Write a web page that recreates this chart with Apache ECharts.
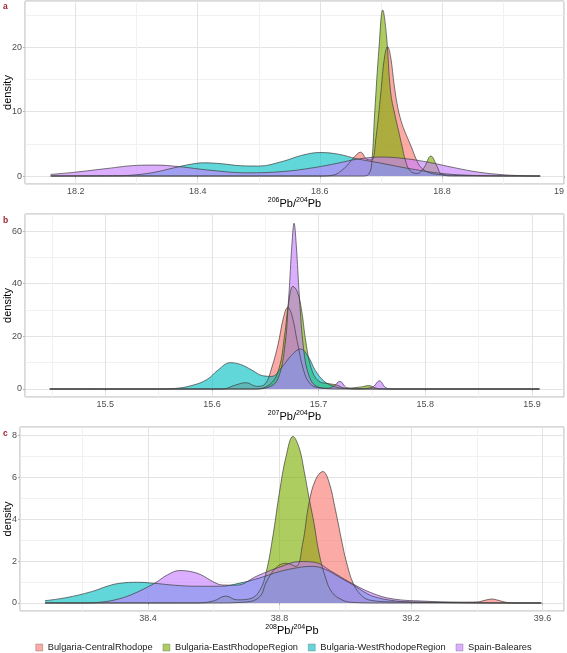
<!DOCTYPE html>
<html>
<head>
<meta charset="utf-8">
<script src="https://cdn.jsdelivr.net/npm/echarts@6/dist/echarts.min.js"></script>
<style>
html,body{margin:0;padding:0;background:#fff;}
#chart{width:567px;height:653px;}
</style>
</head>
<body>
<div id="chart"></div>
<script>
// ---------- data ----------
const groupNames = ['Bulgaria-CentralRhodope','Bulgaria-EastRhodopeRegion','Bulgaria-WestRhodopeRegion','Spain-Baleares'];
const groupColors = ['#F8766D','#7CAE00','#00BFC4','#C77CFF'];

// Panel a: 206Pb/204Pb  [x, density]
const a_central = [[18.159,0],[18.6,0],[18.62,0.1],[18.64,1.2],[18.655,2.8],[18.667,3.7],[18.677,2.6],[18.685,2.5],[18.692,6],[18.7,13],[18.706,18.5],[18.711,20.1],[18.716,18.5],[18.722,14],[18.728,10.5],[18.735,8],[18.742,6.3],[18.75,4.5],[18.758,2.6],[18.766,1.3],[18.78,0.5],[18.8,0.2],[18.85,0.05],[18.961,0]];
const a_east = [[18.159,0],[18.67,0],[18.68,0.3],[18.685,2],[18.69,10],[18.697,20],[18.703,25.8],[18.709,22],[18.716,13],[18.723,9.5],[18.729,7],[18.735,4.5],[18.74,2.5],[18.748,0.8],[18.76,0.4],[18.77,1.2],[18.782,3.1],[18.792,1.5],[18.8,0.2],[18.82,0],[18.961,0]];
const a_west = [[18.159,0],[18.2,0.02],[18.27,0.05],[18.3,0.2],[18.33,0.6],[18.36,1.25],[18.39,1.85],[18.41,2.05],[18.44,1.9],[18.47,1.6],[18.5,1.55],[18.54,2.3],[18.57,3.2],[18.6,3.65],[18.63,3.4],[18.66,2.7],[18.7,2.0],[18.75,1.1],[18.8,0.4],[18.85,0.1],[18.9,0.02],[18.961,0]];
const a_spain = [[18.159,0.25],[18.2,0.6],[18.25,1.15],[18.3,1.65],[18.33,1.7],[18.37,1.45],[18.42,0.9],[18.48,0.5],[18.54,0.7],[18.59,1.3],[18.63,2.0],[18.66,2.6],[18.7,2.95],[18.74,2.7],[18.78,2.1],[18.82,1.3],[18.86,0.6],[18.9,0.2],[18.93,0.06],[18.961,0]];

// Panel b: 207Pb/204Pb
const b_central = [[15.448,0],[15.61,0],[15.622,1.5],[15.632,2.4],[15.642,1],[15.65,2],[15.656,8],[15.662,17],[15.667,27],[15.671,31],[15.675,28],[15.68,18],[15.686,7],[15.692,2],[15.7,0.5],[15.72,0],[15.907,0]];
const b_east = [[15.448,0],[15.64,0],[15.655,2],[15.663,8],[15.668,20],[15.672,33],[15.676,39],[15.68,37],[15.684,30],[15.688,18],[15.693,8],[15.7,3],[15.71,2],[15.717,1.5],[15.725,0.3],[15.74,0.8],[15.747,1.3],[15.754,0.3],[15.76,0],[15.907,0]];
const b_west = [[15.448,0],[15.55,0],[15.565,0.2],[15.58,1.2],[15.595,3.5],[15.606,7.3],[15.617,10],[15.627,9.3],[15.637,7.3],[15.648,5],[15.656,4.8],[15.665,8],[15.675,13],[15.683,15.2],[15.69,12.5],[15.697,7],[15.705,3],[15.713,1.2],[15.722,0.3],[15.74,0],[15.907,0]];
const b_spain = [[15.448,0],[15.64,0],[15.655,1],[15.662,4],[15.668,15],[15.672,35],[15.675,55],[15.677,63],[15.679,55],[15.682,35],[15.686,15],[15.691,5],[15.698,1],[15.708,0.3],[15.714,1],[15.72,2.9],[15.726,0.6],[15.735,0.1],[15.75,0.6],[15.757,3.1],[15.763,0.5],[15.77,0],[15.907,0]];

// Panel c: 208Pb/204Pb
const c_central = [[38.087,0],[38.6,0],[38.7,0.05],[38.74,0.3],[38.76,1.0],[38.79,1.7],[38.82,1.9],[38.85,1.75],[38.87,2.8],[38.89,4.8],[38.91,5.9],[38.932,6.28],[38.95,5.8],[38.97,4.45],[38.99,2.9],[39.002,2.05],[39.024,0.94],[39.05,0.35],[39.08,0.12],[39.15,0.05],[39.3,0.03],[39.4,0.05],[39.43,0.15],[39.446,0.19],[39.46,0.15],[39.49,0.03],[39.52,0],[39.596,0]];
const c_east = [[38.087,0],[38.55,0],[38.6,0.1],[38.637,0.33],[38.67,0.15],[38.71,0.2],[38.74,0.6],[38.76,1.5],[38.78,3.2],[38.8,5.3],[38.82,7.0],[38.841,7.96],[38.86,7.4],[38.875,6.3],[38.89,5.0],[38.905,3.8],[38.92,2.4],[38.94,1.2],[38.96,0.5],[38.99,0.15],[39.02,0.03],[39.1,0],[39.596,0]];
const c_west = [[38.087,0.11],[38.15,0.25],[38.228,0.54],[38.28,0.82],[38.314,0.94],[38.368,0.99],[38.42,0.94],[38.48,0.85],[38.55,0.8],[38.62,0.8],[38.68,0.95],[38.74,1.2],[38.8,1.5],[38.86,1.7],[38.9,1.75],[38.94,1.6],[38.98,1.25],[39.024,0.86],[39.06,0.5],[39.088,0.3],[39.142,0.12],[39.2,0.05],[39.3,0.02],[39.4,0],[39.596,0]];
const c_spain = [[38.087,0],[38.2,0],[38.25,0.03],[38.3,0.15],[38.35,0.4],[38.42,0.94],[38.46,1.35],[38.497,1.55],[38.53,1.5],[38.561,1.35],[38.6,1.0],[38.626,0.86],[38.669,0.85],[38.733,1.3],[38.798,1.7],[38.862,1.98],[38.905,1.95],[38.959,1.5],[39.013,1.0],[39.077,0.5],[39.142,0.2],[39.25,0.08],[39.357,0.03],[39.464,0],[39.596,0]];

// axis ranges and tick steps
const xRanges = [[18.117,19.0],[15.4248,15.93],[38.011,39.665]];
const xSteps = [0.2,0.1,0.4];
const yRanges = [[-1.24,27.2],[-3.04,66.5],[-0.383,8.41]];
const ySteps = [10,20,2];
const panelLetters = ['a','b','c'];
const isotopeTop = ['206','207','208'];

const panels = [
  [a_central,a_east,a_west,a_spain],
  [b_central,b_east,b_west,b_spain],
  [c_central,c_east,c_west,c_spain]
];

// ---------- layout ----------
const grids = [
  {left:25, right:3, top:1, height:183},
  {left:25, right:3, top:214, height:183},
  {left:20, right:3, top:427, height:184}
];
const yNameGaps = [12,12,7];
const xNameGaps = [13,13,13];

const gridLineMajor = '#E3E3E3';
const gridLineMinor = '#F1F1F1';
const tickText = '#4D4D4D';

const option = {
  animation:false,
  backgroundColor:'#ffffff',
  textStyle:{fontFamily:'Liberation Sans, Arial, sans-serif'},
  grid: grids.map(g => Object.assign({show:true, containLabel:false, outerBoundsMode:'none', borderColor:'#B3B3B3', borderWidth:1, backgroundColor:'transparent'}, g)),
  xAxis: xRanges.map((r,i) => ({
    type:'value', gridIndex:i, min:r[0], max:r[1],
    minInterval:xSteps[i], maxInterval:xSteps[i],
    axisLine:{show:false},
    axisTick:{show:true, length:2, lineStyle:{color:'#B3B3B3'}},
    axisLabel:{show:true, margin:3, fontSize:9, color:tickText, showMinLabel:false, showMaxLabel:(i===0), hideOverlap:false,
      alignMaxLabel:(i===0 ? 'right' : null)},
    splitLine:{show:true, lineStyle:{color:gridLineMajor, width:1}},
    minorTick:{show:false, splitNumber:2},
    minorSplitLine:{show:true, lineStyle:{color:gridLineMinor, width:1}},
    name:'{s|' + isotopeTop[i] + '}{m|Pb/}{s|204}{m|Pb}',
    nameLocation:'middle', nameGap:xNameGaps[i], nameMoveOverlap:false,
    nameTextStyle:{color:'#000', fontSize:11,
      rich:{ s:{fontSize:7, verticalAlign:'top', lineHeight:12, color:'#000'},
             m:{fontSize:11, verticalAlign:'bottom', lineHeight:12, color:'#000'} }}
  })),
  yAxis: yRanges.map((r,i) => ({
    type:'value', gridIndex:i, min:r[0], max:r[1],
    minInterval:ySteps[i], maxInterval:ySteps[i],
    axisLine:{show:false},
    axisTick:{show:true, length:2, lineStyle:{color:'#B3B3B3'}},
    axisLabel:{show:true, margin:3, fontSize:9, color:tickText, showMinLabel:false, showMaxLabel:false,
      formatter: v => String(Math.abs(v) < 1e-9 ? 0 : v)},
    splitLine:{show:true, lineStyle:{color:gridLineMajor, width:1}},
    minorTick:{show:false, splitNumber:2},
    minorSplitLine:{show:true, lineStyle:{color:gridLineMinor, width:1}},
    name:'density', nameLocation:'middle', nameGap:yNameGaps[i], nameMoveOverlap:false,
    nameTextStyle:{color:'#000', fontSize:11}
  })),
  legend:{
    data:groupNames, top:638, left:'center', icon:'rect',
    itemWidth:7, itemHeight:7, itemGap:10,
    textStyle:{fontSize:9.3, color:'#1A1A1A'},
    itemStyle:{borderColor:'#666', borderWidth:0.6}
  },
  graphic: panelLetters.map((t,i) => ({
    type:'text', left:3, top:[2,216,429][i],
    style:{text:t, fontSize:8.5, fontWeight:'bold', fill:'#A3222F', fontFamily:'Liberation Sans, Arial, sans-serif'}
  })),
  series:[]
};

panels.forEach((grp,pi) => {
  grp.forEach((d,gi) => {
    option.series.push({
      type:'line', name:groupNames[gi], xAxisIndex:pi, yAxisIndex:pi,
      data:d, showSymbol:false, symbol:'none', smooth:0.4,
      lineStyle:{color:'#3C3C3C', width:0.7},
      itemStyle:{color:groupColors[gi], opacity:0.62, borderColor:'#666', borderWidth:0.6},
      areaStyle:{color:groupColors[gi], opacity:0.62},
      emphasis:{disabled:true}
    });
  });
});

const chart = echarts.init(document.getElementById('chart'), null, {renderer:'canvas'});
chart.setOption(option);
</script>
</body>
</html>
